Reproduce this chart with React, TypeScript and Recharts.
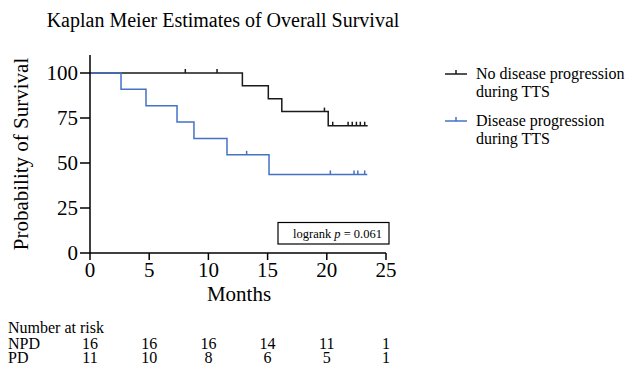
import React from "react";
import { ComposedChart, Line, XAxis, YAxis } from "recharts";

// Kaplan-Meier curves (months, % surviving, censored flag)
const npdTimes = [0, 8.05, 10.73, 12.87, 15.06, 16.2, 19.8, 20.12, 20.5, 21.8, 22.15, 22.5, 22.83, 23.2, 23.45];
const npdSurvival = [100, 100, 100, 92.86, 85.71, 78.57, 78.57, 70.71, 70.71, 70.71, 70.71, 70.71, 70.71, 70.71, 70.71];
const npdCensored = [0, 1, 1, 0, 0, 0, 1, 0, 1, 1, 1, 1, 1, 1, 0];

const pdTimes = [0, 2.62, 4.73, 7.35, 8.78, 11.57, 13.23, 15.12, 20.3, 22.3, 22.62, 23.2, 23.42];
const pdSurvival = [100, 90.91, 81.82, 72.73, 63.64, 54.55, 54.55, 43.64, 43.64, 43.64, 43.64, 43.64, 43.64];
const pdCensored = [0, 0, 0, 0, 0, 0, 1, 0, 1, 1, 1, 1, 0];

const xTicks = [0, 5, 10, 15, 20, 25];
const yTicks = [0, 25, 50, 75, 100];

// number at risk table
const riskTimes = [0, 5, 10, 15, 20, 25];
const npdAtRisk = [16, 16, 16, 14, 11, 1];
const pdAtRisk = [11, 10, 8, 6, 5, 1];

const BLACK = "#1a1a1a";
const BLUE = "#4472c4";
const FONT = '"Liberation Serif", "Times New Roman", Times, serif';

const toRows = (times: number[], surv: number[], cens: number[]) =>
  times.map((t, i) => ({ t, s: surv[i], censored: cens[i] === 1 }));

const npdData = toRows(npdTimes, npdSurvival, npdCensored);
const pdData = toRows(pdTimes, pdSurvival, pdCensored);

// plot area geometry (used only for the overlay texts)
const PLOT_LEFT = 90;
const PLOT_RIGHT = 386;
const xPos = (t: number) => PLOT_LEFT + (t / 25) * (PLOT_RIGHT - PLOT_LEFT);

const censorMark = (color: string) => (props: any) => {
  const { cx, cy, payload, index } = props;
  if (!payload || !payload.censored || cx == null || cy == null) return <g key={`c-${index}`} />;
  return <line key={`c-${index}`} x1={cx} x2={cx} y1={cy - 4} y2={cy} stroke={color} strokeWidth={1.5} />;
};

export default function App() {
  const tickStyle = { fill: "#000", fontSize: 21, fontFamily: FONT };
  return (
    <div style={{ position: "relative", width: 628, height: 365, background: "#fff", fontFamily: FONT }}>
      <style>{`body{margin:0;font-family:${FONT}} svg text{font-family:${FONT}}`}</style>
      <ComposedChart width={628} height={365} margin={{ top: 55, right: 242, bottom: 82, left: 30 }}>
        <XAxis
          type="number"
          dataKey="t"
          domain={[0, 25]}
          ticks={xTicks}
          interval={0}
          height={30}
          tickSize={7}
          tick={tickStyle}
          axisLine={{ stroke: "#000", strokeWidth: 1.5 }}
          tickLine={{ stroke: "#000", strokeWidth: 1.5 }}
          allowDataOverflow
        />
        <YAxis
          type="number"
          domain={[0, 110]}
          ticks={yTicks}
          interval={0}
          width={60}
          tickSize={10}
          tick={tickStyle}
          axisLine={{ stroke: "#000", strokeWidth: 1.5 }}
          tickLine={{ stroke: "#000", strokeWidth: 1.5 }}
          allowDataOverflow
        />
        <Line
          data={npdData}
          dataKey="s"
          type="stepAfter"
          stroke={BLACK}
          strokeWidth={1.5}
          dot={censorMark(BLACK)}
          activeDot={false}
          isAnimationActive={false}
        />
        <Line
          data={pdData}
          dataKey="s"
          type="stepAfter"
          stroke={BLUE}
          strokeWidth={1.5}
          dot={censorMark(BLUE)}
          activeDot={false}
          isAnimationActive={false}
        />
      </ComposedChart>

      <svg width={628} height={365} style={{ position: "absolute", left: 0, top: 0, pointerEvents: "none" }}>
        <text x={223} y={27} fontSize={20} textAnchor="middle" fill="#000">
          Kaplan Meier Estimates of Overall Survival
        </text>
        <text x={28} y={154} fontSize={21} textAnchor="middle" fill="#000" transform="rotate(-90 28 154)">
          Probability of Survival
        </text>
        <text x={239} y={300.5} fontSize={21} textAnchor="middle" fill="#000">
          Months
        </text>

        {/* legend */}
        <line x1={445} x2={467} y1={74} y2={74} stroke={BLACK} strokeWidth={1.5} />
        <line x1={456} x2={456} y1={70} y2={74} stroke={BLACK} strokeWidth={1.5} />
        <text x={476} y={79} fontSize={16} fill="#000">No disease progression</text>
        <text x={476} y={97} fontSize={16} fill="#000">during TTS</text>
        <line x1={445} x2={467} y1={121} y2={121} stroke={BLUE} strokeWidth={1.5} />
        <line x1={456} x2={456} y1={117} y2={121} stroke={BLUE} strokeWidth={1.5} />
        <text x={476} y={126} fontSize={16} fill="#000">Disease progression</text>
        <text x={476} y={144} fontSize={16} fill="#000">during TTS</text>

        {/* logrank box */}
        <rect x={278} y={222.5} width={111} height={21.5} fill="#fff" stroke="#000" strokeWidth={1.2} />
        <text x={337.5} y={237.5} fontSize={12.5} textAnchor="middle" fill="#000">
          logrank <tspan fontStyle="italic">p</tspan> = 0.061
        </text>

        {/* number at risk */}
        <text x={8} y={333} fontSize={16} fill="#000">Number at risk</text>
        <text x={8} y={348.5} fontSize={16} fill="#000">NPD</text>
        <text x={8} y={363} fontSize={16} fill="#000">PD</text>
        {riskTimes.map((t, i) => (
          <text key={`n-${t}`} x={xPos(t)} y={348.5} fontSize={16} textAnchor="middle" fill="#000">
            {npdAtRisk[i]}
          </text>
        ))}
        {riskTimes.map((t, i) => (
          <text key={`p-${t}`} x={xPos(t)} y={363} fontSize={16} textAnchor="middle" fill="#000">
            {pdAtRisk[i]}
          </text>
        ))}
      </svg>
    </div>
  );
}
